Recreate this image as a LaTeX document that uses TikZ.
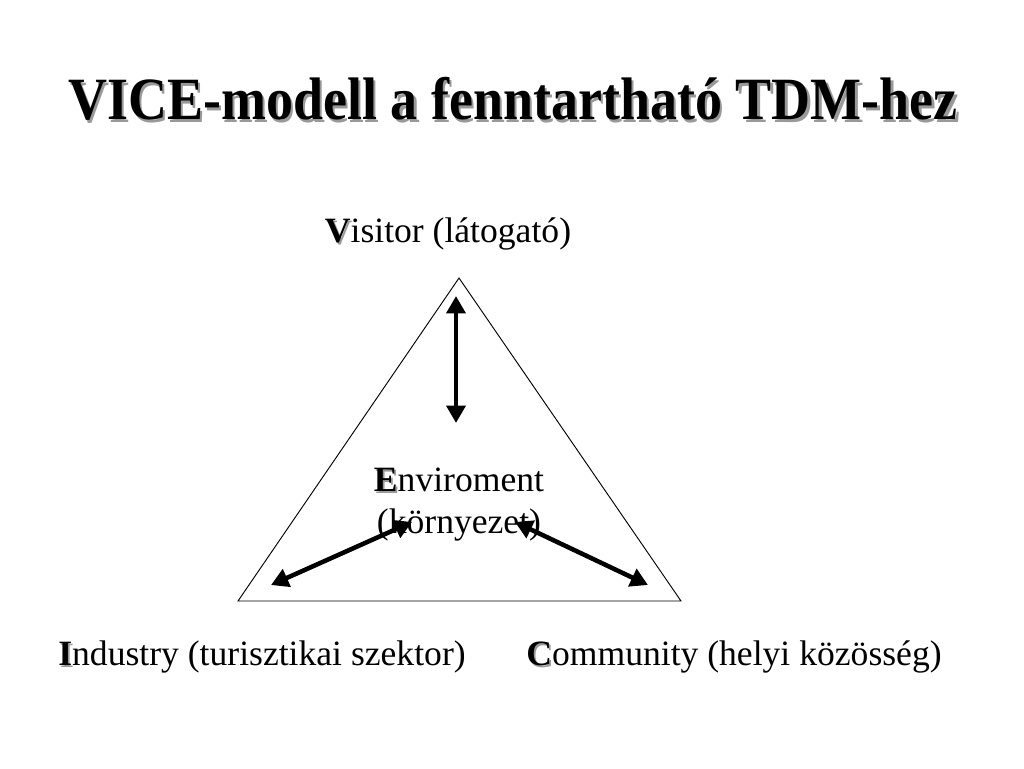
\documentclass[tikz,border=0pt]{standalone}
\usepackage{fontspec}
\setmainfont{Liberation Serif}
\usetikzlibrary{arrows.meta}
\newcommand\shadowed[2]{\rlap{\kern#2\raisebox{-#2}{\textcolor{black!40}{#1}}}#1}
\newcommand\initial[1]{\shadowed{\textbf{#1}}{1.3pt}}
\begin{document}
\begin{tikzpicture}[x=0.75pt,y=-0.75pt,
  lbl/.style={inner sep=0pt,font=\fontsize{26.7pt}{31.5pt}\selectfont},
  link/.style={line width=3.4pt,{Triangle[length=13pt,width=14pt]}-{Triangle[length=13pt,width=14pt]}}]
\useasboundingbox (0,0) rectangle (1024,768);
\node[inner sep=0pt,font=\fontsize{45pt}{50pt}\selectfont\bfseries] (title) at (513,100)
  {\scalebox{0.9}[1]{\shadowed{VICE-modell a fenntartható TDM-hez}{2.2pt}}};
\node[lbl] (V) at (448,234) {\initial{V}isitor (látogató)};
\node[lbl,align=center] (E) at (459,505) {\initial{E}nviroment\\(környezet)};
\node[lbl] (I) at (262,657) {\initial{I}ndustry (turisztikai szektor)};
\node[lbl] (C) at (734,657) {\initial{C}ommunity (helyi közösség)};
\coordinate (apex) at (459,278);
\coordinate (bl) at (238,601);
\coordinate (br) at (681,601);
\draw[line width=0.7pt] (apex) -- (bl) -- (br) -- cycle;
\coordinate (v1) at (456,296);
\coordinate (v2) at (456,423);
\coordinate (i1) at (271,585);
\coordinate (i2) at (412,522);
\coordinate (c1) at (515,522);
\coordinate (c2) at (648,585);
\draw[link] (v1) -- (v2);
\draw[link] (i1) -- (i2);
\draw[link] (c1) -- (c2);
\end{tikzpicture}
\end{document}
